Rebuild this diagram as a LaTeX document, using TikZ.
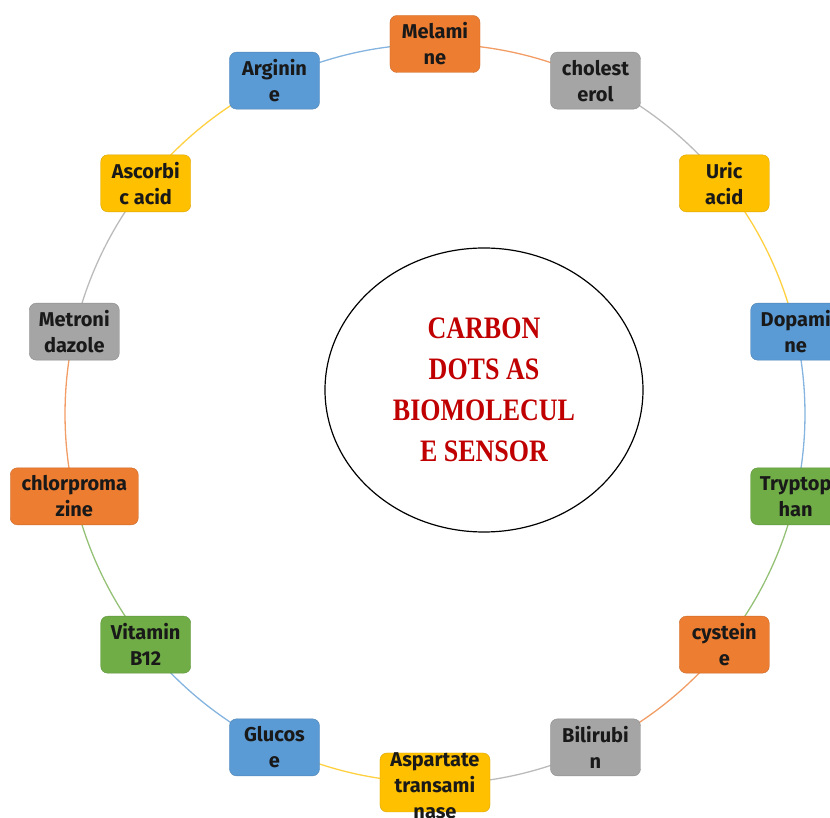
\documentclass[tikz,border=0pt]{standalone}
\usepackage{fontspec}
\setmainfont{Fira Sans}
\newfontfamily\titlefont{Liberation Serif}
\usetikzlibrary{backgrounds,shapes.geometric}
\definecolor{corange}{HTML}{ED7D31}
\definecolor{cgray}{HTML}{A5A5A5}
\definecolor{cgold}{HTML}{FFC000}
\definecolor{cblue}{HTML}{5B9BD5}
\definecolor{cgreen}{HTML}{70AD47}
\definecolor{ctitle}{HTML}{C00000}
\tikzset{
  item/.style={rounded corners=7pt, fill=#1, draw=#1!85!black, line width=0.4pt,
    minimum width=90pt, minimum height=57pt, inner sep=2pt, align=center,
    font=\fontsize{20}{26}\selectfont\bfseries, text=black!90},
  link/.style={draw=#1!75!white, line width=1.3pt},
}
\begin{document}
\begin{tikzpicture}[x=1pt,y=1pt]
\useasboundingbox (-435,-404) rectangle (395,414);
\clip (-435,-404) rectangle (395,414);
\def\R{370}
\node[item=corange] (n1) at (90:\R) {Melami\\ne};
\node[item=cgray] (n2) at (64.29:\R) {cholest\\erol};
\node[item=cgold] (n3) at (38.57:\R) {Uric\\acid};
\node[item=cblue] (n4) at (12.86:\R) {Dopami\\ne};
\node[item=cgreen] (n5) at (-12.86:\R) {Tryptop\\han};
\node[item=corange] (n6) at (-38.57:\R) {cystein\\e};
\node[item=cgray] (n7) at (-64.29:\R) {Bilirubi\\n};
\node[item=cgold, minimum width=110pt, minimum height=59pt] (n8) at (0,-368.5) {};
\node[align=center, inner sep=0pt, font=\fontsize{20}{26}\selectfont\bfseries, text=black!90] (n8t) at (0,-372) {Aspartate\\transami\\nase};
\node[item=cblue] (n9) at (-115.71:\R) {Glucos\\e};
\node[item=cgreen] (n10) at (-141.43:\R) {Vitamin\\B12};
\node[item=corange, minimum width=128pt] (n11) at (-167.14:\R) {chlorproma\\zine};
\node[item=cgray] (n12) at (167.14:\R) {Metroni\\dazole};
\node[item=cgold] (n13) at (141.43:\R) {Ascorbi\\c acid};
\node[item=cblue] (n14) at (115.71:\R) {Arginin\\e};
\node[draw=black, line width=1.2pt, ellipse, minimum width=318pt, minimum height=284pt, inner sep=0pt,
  align=center, text=ctitle, font=\titlefont\fontsize{26}{41}\selectfont\bfseries] (c) at (49,24)
  {\scalebox{1}[1.2]{CARBON}\\\scalebox{1}[1.2]{DOTS AS}\\\scalebox{1}[1.2]{BIOMOLECUL}\\\scalebox{1}[1.2]{E SENSOR}};
\begin{scope}[on background layer]
\draw[link=corange] (n1.center) arc[start angle=90, end angle=64.29, radius=\R];
\draw[link=cgray] (n2.center) arc[start angle=64.29, end angle=38.57, radius=\R];
\draw[link=cgold] (n3.center) arc[start angle=38.57, end angle=12.86, radius=\R];
\draw[link=cblue] (n4.center) arc[start angle=12.86, end angle=-12.86, radius=\R];
\draw[link=cgreen] (n5.center) arc[start angle=-12.86, end angle=-38.57, radius=\R];
\draw[link=corange] (n6.center) arc[start angle=-38.57, end angle=-64.29, radius=\R];
\draw[link=cgray] (n7.center) arc[start angle=-64.29, end angle=-90, radius=\R];
\draw[link=cgold] (n8.center) arc[start angle=-90, end angle=-115.71, radius=\R];
\draw[link=cblue] (n9.center) arc[start angle=-115.71, end angle=-141.43, radius=\R];
\draw[link=cgreen] (n10.center) arc[start angle=-141.43, end angle=-167.14, radius=\R];
\draw[link=corange] (n11.center) arc[start angle=-167.14, end angle=-192.86, radius=\R];
\draw[link=cgray] (n12.center) arc[start angle=167.14, end angle=141.43, radius=\R];
\draw[link=cgold] (n13.center) arc[start angle=141.43, end angle=115.71, radius=\R];
\draw[link=cblue] (n14.center) arc[start angle=115.71, end angle=90, radius=\R];
\end{scope}
\end{tikzpicture}
\end{document}
